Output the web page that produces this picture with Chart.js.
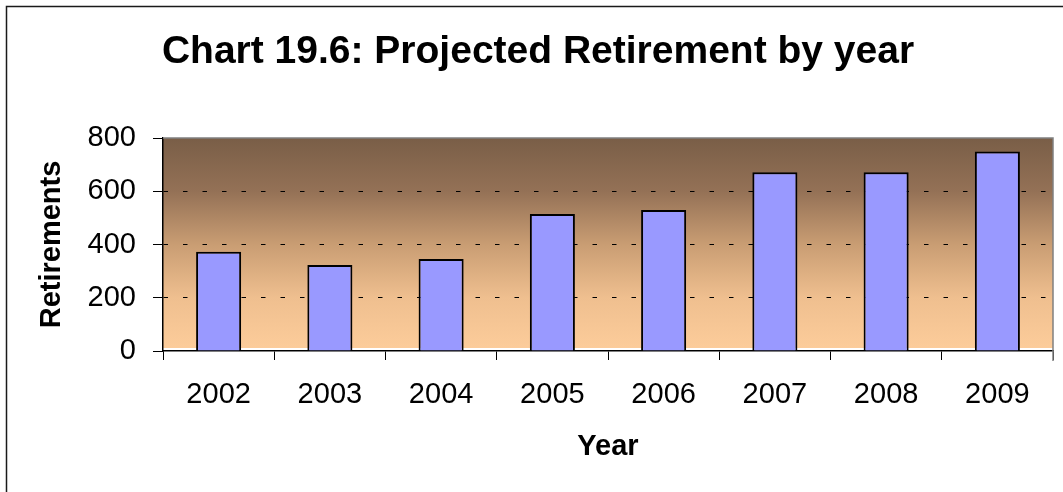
<!DOCTYPE html>
<html>
<head>
<meta charset="utf-8">
<script src="https://cdn.jsdelivr.net/npm/chart.js@4.4.0/dist/chart.umd.min.js"></script>
<style>
  html, body { margin: 0; padding: 0; background: #fff; }
  #wrap { width: 1063px; height: 492px; position: relative; }
</style>
</head>
<body>
<div id="wrap"><canvas id="retireChart" width="1063" height="492"></canvas></div>
<script>
// data
const years = ['2002', '2003', '2004', '2005', '2006', '2007', '2008', '2009'];
const retirements = [373, 323, 346, 515, 530, 671, 671, 749];
const yTicks = [0, 200, 400, 600, 800];

// plot background + frame
const plotBackground = {
    id: 'plotBackground',
    beforeDraw(chart) {
        const ctx = chart.ctx;
        const a = chart.chartArea;
        ctx.save();
        // outer chart border (runs off to the right / bottom)
        ctx.strokeStyle = '#1a1a1a';
        ctx.lineWidth = 1.5;
        ctx.beginPath();
        ctx.moveTo(6.5, chart.height);
        ctx.lineTo(6.5, 6.5);
        ctx.lineTo(chart.width, 6.5);
        ctx.stroke();
        // gradient fill of the plot area
        const g = ctx.createLinearGradient(0, a.top, 0, a.bottom);
        g.addColorStop(0, '#795e47');
        g.addColorStop(0.25, '#947156');
        g.addColorStop(0.5, '#c99d73');
        g.addColorStop(0.75, '#efbf8f');
        g.addColorStop(1, '#fdcd9b');
        ctx.fillStyle = g;
        ctx.fillRect(a.left, a.top, a.right - a.left, a.bottom - a.top - 3);
        ctx.restore();
    },
    beforeDatasetsDraw(chart) {
        const ctx = chart.ctx;
        const a = chart.chartArea;
        ctx.save();
        ctx.strokeStyle = '#808080';
        ctx.lineWidth = 1.5;
        ctx.beginPath();
        ctx.moveTo(a.left, a.top);
        ctx.lineTo(a.right, a.top);
        ctx.lineTo(a.right, a.bottom + 10);
        ctx.stroke();
        ctx.restore();
    }
};

const ChartR = document.getElementById('retireChart');
const retireChart = new Chart(ChartR, {
    type: 'bar',
    data: {
        labels: years,
        datasets: [{
            label: 'Retirements',
            data: retirements,
            backgroundColor: '#9999ff',
            borderColor: '#000000',
            borderWidth: 2,
            borderSkipped: 'start',
            categoryPercentage: 1,
            barPercentage: 0.405
        }]
    },
    options: {
        responsive: false,
        animation: false,
        layout: {
            padding: { left: 23, right: 10, top: 0, bottom: 0 }
        },
        scales: {
            x: {
                afterFit: function (scale) { scale.height = 141; },
                grid: {
                    offset: true,
                    drawOnChartArea: false,
                    tickLength: 9,
                    tickColor: '#000000'
                },
                border: { color: '#000000', width: 1.5 },
                ticks: {
                    color: '#000000',
                    padding: 18,
                    font: { family: 'Liberation Sans, Arial', size: 29 }
                },
                title: {
                    display: true,
                    text: 'Year',
                    color: '#000000',
                    padding: { top: 0, bottom: 28 },
                    font: { family: 'Liberation Sans, Arial', size: 29, weight: 'bold' }
                }
            },
            y: {
                min: 0,
                max: 800,
                afterFit: function (scale) { scale.width = 140; },
                afterBuildTicks: function (scale) {
                    scale.ticks = yTicks.map(v => ({ value: v }));
                },
                grid: {
                    color: function (c) {
                        const v = c.tick ? c.tick.value : 0;
                        return (v === 0 || v === 800) ? 'rgba(0,0,0,0)' : '#000000';
                    },
                    tickColor: '#000000',
                    tickLength: 10,
                    lineWidth: 1
                },
                border: { color: '#000000', width: 1.5, dash: [4.5, 15] },
                ticks: {
                    color: '#000000',
                    padding: 17,
                    font: { family: 'Liberation Sans, Arial', size: 29 }
                },
                title: {
                    display: true,
                    text: 'Retirements',
                    color: '#000000',
                    padding: { top: 12, bottom: 0 },
                    font: { family: 'Liberation Sans, Arial', size: 29, weight: 'bold' }
                }
            }
        },
        plugins: {
            legend: { display: false },
            tooltip: { enabled: false },
            title: {
                display: true,
                text: 'Chart 19.6: Projected Retirement by year',
                color: '#000000',
                padding: { top: 28.6, bottom: 62.6 },
                font: { family: 'Liberation Sans, Arial', size: 39, weight: 'bold' }
            }
        }
    },
    plugins: [plotBackground]
});
</script>
</body>
</html>
